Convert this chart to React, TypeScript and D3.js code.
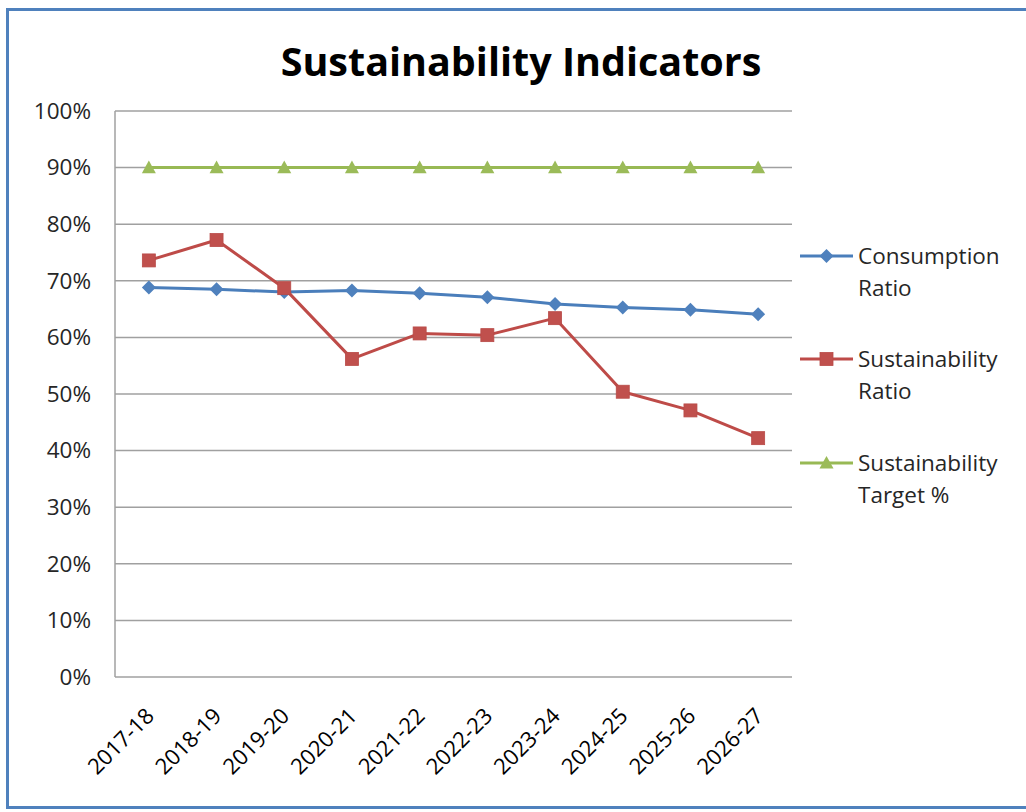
import React from "react";
import * as d3 from "d3";

const categories = ["2017-18","2018-19","2019-20","2020-21","2021-22","2022-23","2023-24","2024-25","2025-26","2026-27"];
const consumptionRatio = [68.8,68.5,68.0,68.3,67.8,67.1,65.9,65.3,64.9,64.1];
const sustainabilityRatio = [73.6,77.2,68.7,56.2,60.7,60.4,63.4,50.4,47.1,42.2];
const sustainabilityTarget = [90,90,90,90,90,90,90,90,90,90];
const yTicks = [0,10,20,30,40,50,60,70,80,90,100];

const series = [
  { name: ["Consumption", "Ratio"], values: consumptionRatio, line: "#4A7EBB", fill: "#4F81BD", marker: "diamond" },
  { name: ["Sustainability", "Ratio"], values: sustainabilityRatio, line: "#BE4B48", fill: "#C0504D", marker: "square" },
  { name: ["Sustainability", "Target %"], values: sustainabilityTarget, line: "#98B954", fill: "#9BBB59", marker: "triangle" },
];

const FONT = "'Open Sans', 'Noto Sans', sans-serif";

function Marker({ type, x, y, color }: { type: string; x: number; y: number; color: string }) {
  if (type === "diamond") {
    const s = 7;
    return <path d={`M${x},${y - s}L${x + s},${y}L${x},${y + s}L${x - s},${y}Z`} fill={color} />;
  }
  if (type === "square") {
    const s = 6.5;
    return <rect x={x - s} y={y - s} width={2 * s} height={2 * s} fill={color} stroke="#B84A47" strokeWidth={0.8} />;
  }
  const s = 7;
  return <path d={`M${x},${y - s}L${x + s},${y + s * 0.8}L${x - s},${y + s * 0.8}Z`} fill={color} />;
}

export default function App() {
  const left = 115, right = 792, top = 111, bottom = 677;
  const x = d3.scaleBand<string>().domain(categories).range([left, right]);
  const y = d3.scaleLinear().domain([0, 100]).range([bottom, top]);
  const cx = (c: string) => (x(c) as number) + x.bandwidth() / 2;
  const line = d3.line<number>().x((_, i) => cx(categories[i])).y((v) => y(v));

  const legendY = [256, 359, 463];

  return (
    <svg width={1026} height={812} style={{ position: "absolute", left: 0, top: 0 }}>
      <rect x={0} y={0} width={1026} height={812} fill="#fff" />
      <rect x={7.5} y={9.5} width={1030} height={798} fill="#fff" stroke="#4F81BD" strokeWidth={3} />
      <text x={521} y={76} textAnchor="middle" fontFamily={FONT} fontWeight="bold" fontSize={39.5} fill="#000">
        Sustainability Indicators
      </text>
      {yTicks.map((t) => (
        <g key={t}>
          <line x1={left} x2={right} y1={y(t)} y2={y(t)} stroke="#A0A0A0" strokeWidth={1.5} />
          <text x={91} y={y(t)} dy="0.35em" textAnchor="end" fontFamily={FONT} fontSize={22.5} fill="#262626">
            {t}%
          </text>
        </g>
      ))}
      <line x1={left} x2={left} y1={top} y2={bottom} stroke="#A0A0A0" strokeWidth={1.5} />
      {categories.map((c) => (
        <text
          key={c}
          transform={`translate(${cx(c) + 1},${bottom + 35}) rotate(-45)`}
          textAnchor="end"
          dy="0.35em"
          fontFamily={FONT}
          fontSize={22}
          fill="#000"
        >
          {c}
        </text>
      ))}
      {series.map((s) => (
        <g key={s.name.join(" ")}>
          <path d={line(s.values) || ""} fill="none" stroke={s.line} strokeWidth={3} strokeLinejoin="round" />
          {s.values.map((v, i) => (
            <Marker key={i} type={s.marker} x={cx(categories[i])} y={y(v)} color={s.fill} />
          ))}
        </g>
      ))}
      {series.map((s, k) => (
        <g key={"lg" + k}>
          <line x1={800} x2={853} y1={legendY[k]} y2={legendY[k]} stroke={s.line} strokeWidth={3} />
          <Marker type={s.marker} x={826.5} y={legendY[k]} color={s.fill} />
          <text x={858} y={legendY[k]} dy="0.35em" fontFamily={FONT} fontSize={22.5} fill="#262626">
            {s.name[0]}
          </text>
          <text x={858} y={legendY[k] + 32} dy="0.35em" fontFamily={FONT} fontSize={22.5} fill="#262626">
            {s.name[1]}
          </text>
        </g>
      ))}
    </svg>
  );
}
